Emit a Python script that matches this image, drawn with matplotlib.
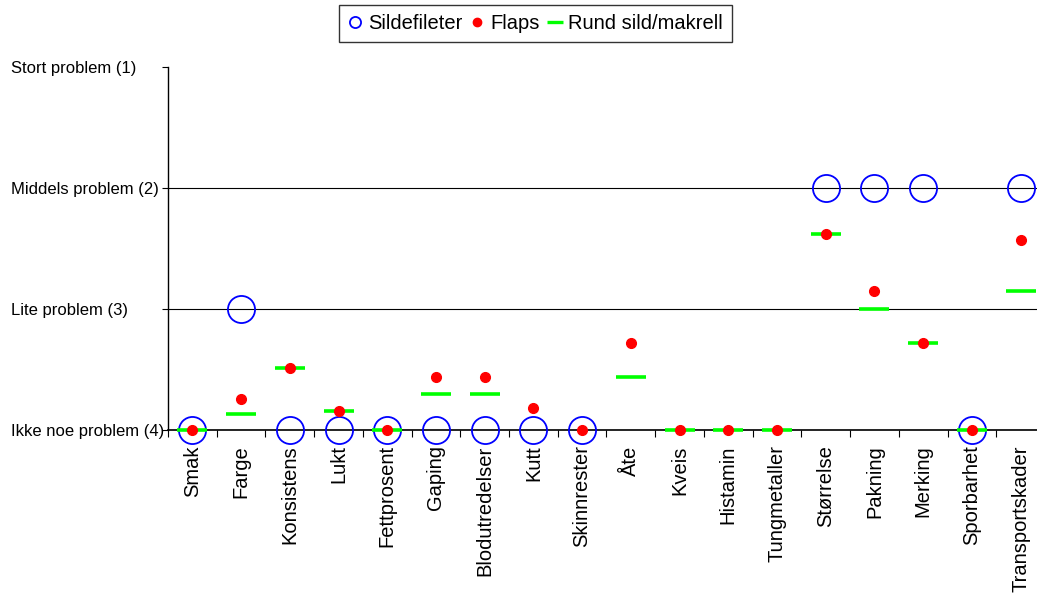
import numpy as np
import matplotlib
matplotlib.use("Agg")
import matplotlib.pyplot as plt
from matplotlib.lines import Line2D

plt.rcParams["font.family"] = ["Liberation Sans", "DejaVu Sans"]

# ── data ───────────────────────────────────────────────────────────────────────
categories = ["Smak", "Farge", "Konsistens", "Lukt", "Fettprosent", "Gaping",
              "Blodutredelser", "Kutt", "Skinnrester", "Åte", "Kveis", "Histamin",
              "Tungmetaller", "Størrelse", "Pakning", "Merking", "Sporbarhet",
              "Transportskader"]
nan = np.nan
sildefileter = [4, 3, 4, 4, 4, 4, 4, 4, 4, nan, nan, nan, nan, 2, 2, 2, 4, 2]
flaps = [4, 3.74, 3.49, 3.84, 4, 3.56, 3.56, 3.82, 4, 3.28, 4, 4, 4,
         2.38, 2.85, 3.28, 4, 2.43]
rund = [4, 3.87, 3.49, 3.84, 4, 3.70, 3.70, nan, nan, 3.56, 4, 4, 4,
        2.38, 3.0, 3.28, 4, 2.85]
y_ticks = [1, 2, 3, 4]
y_labels = ["Stort problem (1)", "Middels problem (2)", "Lite problem (3)",
            "Ikke noe problem (4)"]

# ── figure ─────────────────────────────────────────────────────────────────────
fig = plt.figure(figsize=(10.37, 5.94), dpi=100)
ax = fig.add_axes([168 / 1037, (594 - 430) / 594, (1045 - 168) / 1037, 363 / 594])

x = np.arange(len(categories))
ax.plot(x, sildefileter, ls="none", marker="o", ms=19.5, mfc="none",
        mec="#0000FF", mew=1.3, clip_on=False, zorder=3)
ax.plot(x, rund, ls="none", marker="_", ms=22, mec="#00FF00", mew=2.6,
        clip_on=False, zorder=4)
ax.plot(x, flaps, ls="none", marker="o", ms=7, mfc="#FF0000", mec="#FF0000",
        clip_on=False, zorder=5)

ax.set_xlim(-0.5, len(categories) - 0.5)
ax.set_ylim(4, 1)

ax.set_xticks(x)
ax.set_xticklabels(categories, rotation=90, fontsize=14.5)
ax.set_xticks(np.arange(len(categories) + 1) - 0.5, minor=True)
ax.tick_params(axis="x", which="major", length=0, pad=11)
ax.tick_params(axis="x", which="minor", length=5, width=0.8, direction="out")

ax.set_yticks(y_ticks)
ax.set_yticklabels(y_labels, fontsize=12)
ax.tick_params(axis="y", length=4, width=0.8, pad=109)
for lab in ax.get_yticklabels():
    lab.set_horizontalalignment("left")

ax.grid(axis="y", color="black", lw=0.8)
ax.get_ygridlines()[0].set_visible(False)
ax.set_axisbelow(True)

for s in ["top", "right"]:
    ax.spines[s].set_visible(False)
ax.spines["left"].set_linewidth(1.0)
ax.spines["bottom"].set_linewidth(1.2)

handles = [
    Line2D([], [], ls="none", marker="o", ms=8, mfc="none", mec="#0000FF", mew=1.3),
    Line2D([], [], ls="none", marker="o", ms=6, mfc="#FF0000", mec="#FF0000"),
    Line2D([], [], ls="none", marker="_", ms=11, mec="#00FF00", mew=2.4),
]
fig.legend(handles, ["Sildefileter", "Flaps", "Rund sild/makrell"], ncol=3,
           loc="upper center", bbox_to_anchor=(0.516, 589 / 594), fontsize=14.5,
           frameon=True, fancybox=False, edgecolor="black", handlelength=0.7,
           handletextpad=0.3, columnspacing=0.4, borderpad=0.45,
           borderaxespad=0)
fig.savefig("out.png", dpi=100)
